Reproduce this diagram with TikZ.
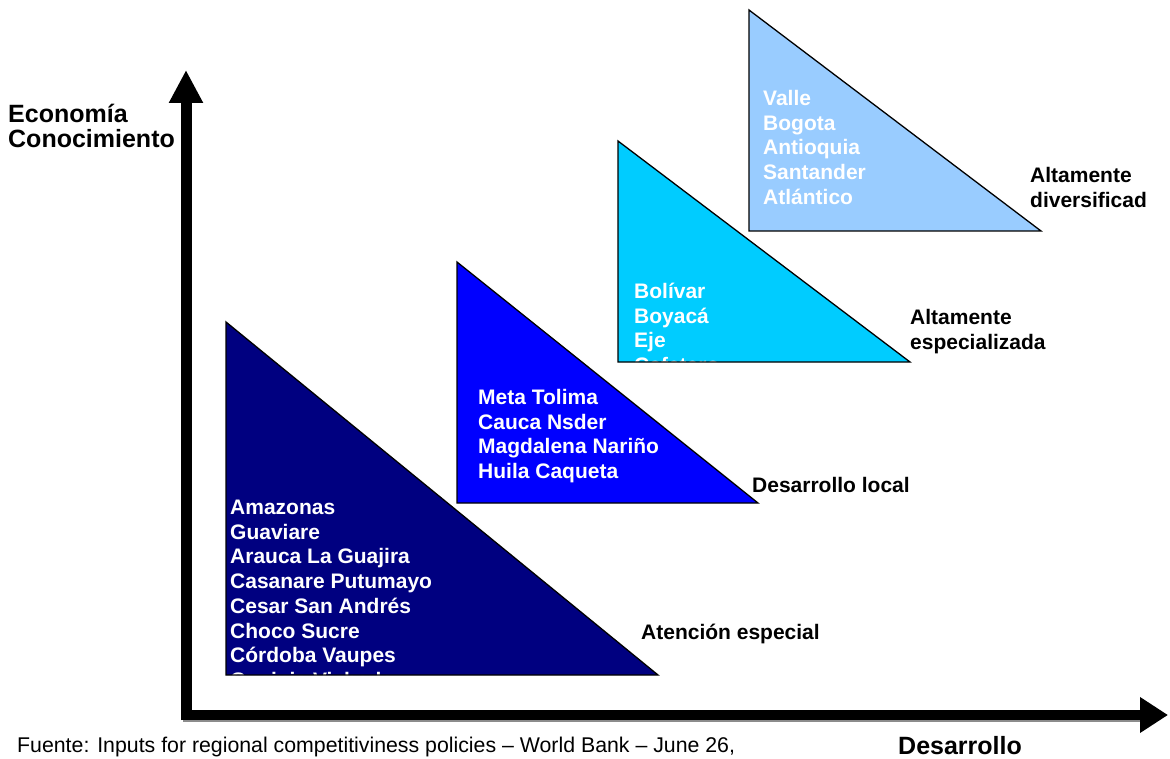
\documentclass[tikz,border=0pt]{standalone}
\usepackage{fontspec}
\setmainfont{Liberation Sans}
\usetikzlibrary{arrows.meta}
\definecolor{tnavy}{HTML}{000080}
\definecolor{tblue}{HTML}{0000FF}
\definecolor{tcyan}{HTML}{00CCFF}
\definecolor{tlight}{HTML}{99CCFF}
\begin{document}
\begin{tikzpicture}[x=1pt,y=-1pt,
  tri/.style={draw=black,line width=1.3pt,line join=miter},
  wtxt/.style={text=white,font=\fontsize{21}{24}\selectfont\bfseries,anchor=base west,inner sep=0pt},
  lbl/.style={font=\fontsize{21}{25}\selectfont\bfseries,anchor=base west,inner sep=0pt},
  axlbl/.style={font=\fontsize{25}{25}\selectfont\bfseries,anchor=base west,inner sep=0pt},
  srcl/.style={font=\fontsize{21.3}{24}\selectfont,anchor=base west,inner sep=0pt},
  vaxis/.style={line width=11pt,-{Triangle[width=32pt,length=33pt]}},
  haxis/.style={line width=10pt,-{Triangle[width=34pt,length=28pt]}}]
\useasboundingbox (0,0) rectangle (1170,759);
\clip (0,0) rectangle (1170,759);

% corners of the triangles
\coordinate (a1) at (226,322); \coordinate (b1) at (226,675); \coordinate (c1) at (658,675);
\coordinate (a2) at (457,262); \coordinate (b2) at (457,503); \coordinate (c2) at (758,503);
\coordinate (a3) at (618,141); \coordinate (b3) at (618,362); \coordinate (c3) at (910,362);
\coordinate (a4) at (749,10);  \coordinate (b4) at (749,231); \coordinate (c4) at (1041,231);

% triangle 1
\begin{scope}
  \clip (a1) -- (b1) -- (c1) -- cycle;
  \fill[tnavy] (a1) -- (b1) -- (c1) -- cycle;
  \foreach \t [count=\i] in {Amazonas,Guaviare,Arauca La Guajira,Casanare Putumayo,Cesar San Andrés,Choco Sucre,Córdoba Vaupes,Guainia Vichada}
    \node[wtxt,name=ta\i] at (230,{514.5+(\i-1)*24.7}) {\t};
\end{scope}
\draw[tri] (a1) -- (b1) -- (c1) -- cycle;

% triangle 2
\begin{scope}
  \clip (a2) -- (b2) -- (c2) -- cycle;
  \fill[tblue] (a2) -- (b2) -- (c2) -- cycle;
  \foreach \t [count=\i] in {Meta Tolima,Cauca Nsder,Magdalena Nariño,Huila Caqueta}
    \node[wtxt,name=tb\i] at (478,{404.5+(\i-1)*24.7}) {\t};
\end{scope}
\draw[tri] (a2) -- (b2) -- (c2) -- cycle;

% triangle 3
\begin{scope}
  \clip (a3) -- (b3) -- (c3) -- cycle;
  \fill[tcyan] (a3) -- (b3) -- (c3) -- cycle;
  \foreach \t [count=\i] in {Bolívar,Boyacá,Eje,Cafetero}
    \node[wtxt,name=tc\i] at (634,{298.5+(\i-1)*24.7}) {\t};
\end{scope}
\draw[tri] (a3) -- (b3) -- (c3) -- cycle;

% triangle 4
\begin{scope}
  \clip (a4) -- (b4) -- (c4) -- cycle;
  \fill[tlight] (a4) -- (b4) -- (c4) -- cycle;
  \foreach \t [count=\i] in {Valle,Bogota,Antioquia,Santander,Atlántico}
    \node[wtxt,name=td\i] at (763,{105.5+(\i-1)*24.7}) {\t};
\end{scope}
\draw[tri] (a4) -- (b4) -- (c4) -- cycle;

% labels of the triangles
\node[lbl] (l4a) at (1030,182.5) {Altamente};
\node[lbl] (l4b) at (1030,207.5) {diversificad};
\node[lbl] (l3a) at (910,324.5) {Altamente};
\node[lbl] (l3b) at (910,349.5) {especializada};
\node[lbl] (l2) at (752,492.5) {Desarrollo local};
\node[lbl] (l1) at (641,639.5) {Atención especial};

% axes
\coordinate (O) at (186,720);
\coordinate (Ytip) at (186,70);
\coordinate (Hs) at (181,715);
\coordinate (Xtip) at (1168,715);
\coordinate (Hss) at (183,717);
\coordinate (Xs) at (1140,717);
\draw[black!45,line width=10pt] (Hss) -- (Xs);
\draw[vaxis] (O) -- (Ytip);
\draw[haxis] (Hs) -- (Xtip);

\node[axlbl] (ya) at (8,122.5) {Economía};
\node[axlbl] (yb) at (8,147.5) {Conocimiento};
\node[axlbl] (xl) at (898,754) {Desarrollo};

\node[srcl] (src) at (17,752) {Fuente: Inputs for regional competitiviness policies – World Bank – June 26,};
\end{tikzpicture}
\end{document}
